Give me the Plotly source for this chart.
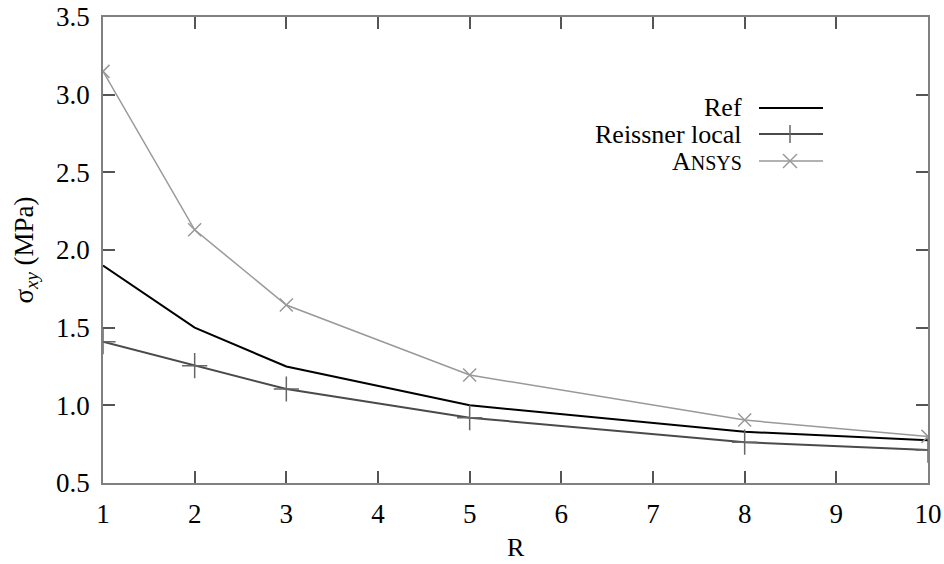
import plotly.graph_objects as go

R = [1, 2, 3, 5, 8, 10]
ref = [1.90, 1.50, 1.25, 1.00, 0.83, 0.775]
reissner = [1.41, 1.255, 1.105, 0.92, 0.763, 0.712]
ansys = [3.15, 2.13, 1.646, 1.195, 0.905, 0.80]

names = ["Ref", "Reissner local", "A<span style='font-size:20px'>NSYS</span>"]
FONT = "Liberation Serif"

W, H = 944, 564
ml, mr, mt, mb = 103, 16, 17, 81
pw, ph = W - ml - mr, H - mt - mb

fig = go.Figure()
fig.add_trace(go.Scatter(x=R, y=ref, mode="lines", line=dict(color="black", width=2)))
fig.add_trace(go.Scatter(x=R, y=reissner, mode="lines+markers",
                         line=dict(color="#4a4a4a", width=2),
                         marker=dict(symbol="cross-thin", size=18,
                                     line=dict(color="#666666", width=1.5))))
fig.add_trace(go.Scatter(x=R, y=ansys, mode="lines+markers",
                         line=dict(color="#999999", width=1.5),
                         marker=dict(symbol="x-thin", size=13,
                                     line=dict(color="#999999", width=1.5))))


# hand-drawn legend: text on the left, sample on the right (pixels -> paper)
def px_x(p):
    return (p - ml) / pw


def px_y(p):
    return (H - mb - p) / ph


rows = [108, 134, 161]
line_styles = [("black", 2), ("#4a4a4a", 2), ("#999999", 1.5)]
x0, x1, xm = 759, 823, 790
for i, (name, yy) in enumerate(zip(names, rows)):
    c, w = line_styles[i]
    fig.add_annotation(x=px_x(744), y=px_y(yy), xref="paper", yref="paper",
                       text=name, showarrow=False, xanchor="right", yanchor="middle",
                       font=dict(family=FONT, size=26, color="black"))
    fig.add_shape(type="line", xref="paper", yref="paper",
                  x0=px_x(x0), x1=px_x(x1), y0=px_y(yy), y1=px_y(yy),
                  line=dict(color=c, width=w))
# legend markers
fig.add_shape(type="line", xref="paper", yref="paper",
              x0=px_x(xm), x1=px_x(xm), y0=px_y(134 - 9), y1=px_y(134 + 9),
              line=dict(color="#666666", width=1.5))
for dy in (-1, 1):
    fig.add_shape(type="line", xref="paper", yref="paper",
                  x0=px_x(xm - 7), x1=px_x(xm + 7), y0=px_y(161 - 7 * dy), y1=px_y(161 + 7 * dy),
                  line=dict(color="#999999", width=1.5))

# x title, placed by hand near the bottom edge like the original
fig.add_annotation(x=0.5, y=px_y(547), xref="paper", yref="paper", text="R",
                   showarrow=False, xanchor="center", yanchor="middle",
                   font=dict(family=FONT, size=26, color="black"))

axis_common = dict(showline=True, linecolor="#808080", linewidth=1.5, mirror="allticks",
                   ticks="inside", ticklen=12, tickcolor="#555555", tickwidth=1.5,
                   showgrid=False, zeroline=False, automargin=False,
                   ticklabeloverflow="allow", ticklabelstandoff=6,
                   tickfont=dict(family=FONT, size=27, color="black"))

fig.update_xaxes(range=[1, 10], dtick=1, tick0=1, **axis_common)
fig.update_yaxes(range=[0.5, 3.5], dtick=0.5, tick0=0.5, tickformat=".1f",
                 title=dict(text="σ<sub><i>xy</i></sub> (MPa)",
                            font=dict(family=FONT, size=27, color="black")),
                 **axis_common)

fig.update_layout(width=W, height=H, showlegend=False,
                  plot_bgcolor="white", paper_bgcolor="white",
                  margin=dict(l=ml, r=mr, t=mt, b=mb))

# drop the default body margin so the figure sits in the window corner
fig.write_html("out.html", config={"displayModeBar": False},
               post_script="document.body.style.margin='0px';")
